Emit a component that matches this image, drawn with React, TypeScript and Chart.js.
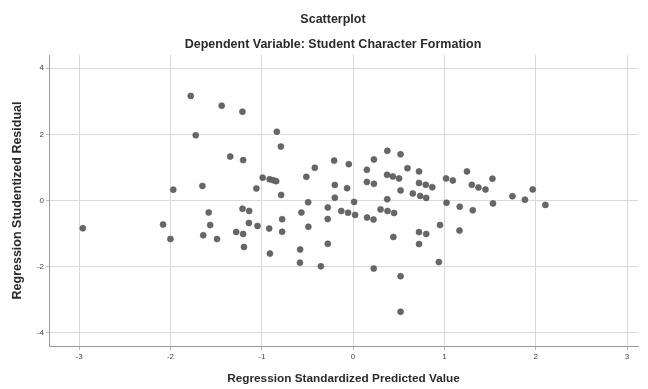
import React, { useEffect, useRef } from "react";
import { Chart, registerables } from "chart.js";

Chart.register(...registerables);

const chartTitle = "Scatterplot";
const chartSubtitle = "Dependent Variable: Student Character Formation";
const xAxisTitle = "Regression Standardized Predicted Value";
const yAxisTitle = "Regression Studentized Residual";

const xTicks = [-3, -2, -1, 0, 1, 2, 3];
const yTicks = [-4, -2, 0, 2, 4];

const predicted = [
  -2.96, -2.081, -2.0, -1.969, -1.778, -1.723, -1.65, -1.641, -1.581, -1.565,
  -1.49, -1.439, -1.346, -1.28, -1.212, -1.211, -1.204, -1.204, -1.195, -1.138,
  -1.141, -1.059, -1.047, -0.99, -0.914, -0.875, -0.842, -0.919, -0.911, -0.835,
  -0.791, -0.788, -0.777, -0.777, -0.58, -0.582, -0.566, -0.512, -0.492, -0.49,
  -0.419, -0.353, -0.277, -0.278, -0.277, -0.208, -0.2, -0.2, -0.129, -0.066,
  -0.055, -0.047, 0.011, 0.022, 0.151, 0.151, 0.153, 0.228, 0.228, 0.224,
  0.226, 0.301, 0.375, 0.372, 0.435, 0.503, 0.374, 0.377, 0.449, 0.441,
  0.52, 0.52, 0.52, 0.52, 0.596, 0.654, 0.722, 0.722, 0.796, 0.867,
  0.735, 0.801, 0.722, 0.801, 0.722, 0.952, 0.939, 1.018, 1.092, 1.023,
  1.168, 1.165, 1.247, 1.3, 1.373, 1.45, 1.311, 1.526, 1.532, 1.745,
  1.882, 1.967, 2.106,
];

const residual = [
  -0.84, -0.727, -1.164, 0.327, 3.161, 1.973, 0.442, -1.052, -0.361, -0.742,
  -1.167, 2.867, 1.327, -0.952, 2.685, -0.248, 1.221, -1.012, -1.406, -0.315,
  -0.679, 0.364, -0.77, 0.691, 0.639, 0.615, 0.585, -0.848, -1.606, 2.079,
  1.63, 0.167, -0.567, -0.945, -1.482, -1.879, -0.364, 0.715, -0.052, -0.794,
  0.988, -1.991, -0.212, -0.561, -1.309, 1.206, 0.47, 0.085, -0.318, 0.373,
  -0.37, 1.1, -0.042, -0.436, 0.927, 0.561, -0.515, 1.242, 0.503, -0.576,
  -2.058, -0.27, 1.503, 0.776, 0.727, 0.667, 0.039, -0.318, -0.379, -1.103,
  1.397, 0.306, -2.288, -3.364, 0.979, 0.212, 0.879, 0.53, 0.473, 0.403,
  0.139, 0.079, -0.955, -1.012, -1.318, -0.742, -1.861, 0.667, 0.606, -0.067,
  -0.188, -0.909, 0.879, 0.473, 0.394, 0.333, -0.294, 0.661, -0.088, 0.13,
  0.024, 0.336, -0.133,
];

const FONT = "'Liberation Sans', Arial, Helvetica, sans-serif";

export default function App() {
  const ref = useRef<HTMLCanvasElement | null>(null);

  useEffect(() => {
    document.body.style.margin = "0";
    const canvas = ref.current;
    if (!canvas) return;

    const titlePlugin = {
      id: "spssTitles",
      afterDraw(chart: any) {
        const ctx = chart.ctx;
        ctx.save();
        ctx.fillStyle = "#2a2a2a";
        ctx.textAlign = "center";
        ctx.textBaseline = "middle";
        ctx.font = `bold 12.5px ${FONT}`;
        ctx.fillText(chartTitle, 333, 20);
        ctx.fillText(chartSubtitle, 333, 45);
        ctx.restore();
      },
    };

    const points = predicted.map((x, i) => ({ x, y: residual[i] }));

    const chart = new Chart(canvas, {
      type: "scatter",
      data: {
        datasets: [
          {
            data: points,
            pointRadius: 3,
            pointHoverRadius: 3,
            backgroundColor: "#676767",
            borderColor: "#555555",
            borderWidth: 0.6,
          },
        ],
      },
      options: {
        responsive: false,
        animation: false,
        layout: { padding: { top: 55, right: 10, left: 0, bottom: 0 } },
        plugins: {
          legend: { display: false },
          tooltip: { enabled: false },
          title: { display: false },
        },
        scales: {
          x: {
            type: "linear",
            min: -3.33,
            max: 3.12,
            afterBuildTicks: (s: any) => {
              s.ticks = xTicks.map((v) => ({ value: v }));
            },
            afterFit: (s: any) => {
              s.height = 43;
            },
            grid: { color: "#d9d9d9", lineWidth: 1, tickLength: 4, tickColor: "#bbbbbb" },
            border: { display: true, color: "#9a9a9a", width: 1 },
            ticks: {
              font: { size: 8, family: FONT },
              color: "#444444",
              padding: 2,
              maxRotation: 0,
              callback: (v: any) => String(v),
            },
            title: {
              display: true,
              text: xAxisTitle,
              font: { size: 11.8, weight: "bold", family: FONT },
              color: "#2a2a2a",
              padding: { top: 4, bottom: 3 },
            },
          },
          y: {
            type: "linear",
            min: -4.4,
            max: 4.4,
            afterBuildTicks: (s: any) => {
              s.ticks = yTicks.map((v) => ({ value: v }));
            },
            afterFit: (s: any) => {
              s.width = 49;
            },
            grid: { color: "#d9d9d9", lineWidth: 1, tickLength: 3, tickColor: "#bbbbbb" },
            border: { display: true, color: "#9a9a9a", width: 1 },
            ticks: {
              font: { size: 8, family: FONT },
              color: "#444444",
              padding: 2,
              callback: (v: any) => String(v),
            },
            title: {
              display: true,
              text: yAxisTitle,
              font: { size: 12.5, weight: "bold", family: FONT },
              color: "#2a2a2a",
              padding: { top: 10, bottom: 0 },
            },
          },
        },
      },
      plugins: [titlePlugin],
    });

    return () => {
      chart.destroy();
    };
  }, []);

  return (
    <div style={{ width: 648, height: 389 }}>
      <canvas ref={ref} width={648} height={389} style={{ display: "block" }} />
    </div>
  );
}
